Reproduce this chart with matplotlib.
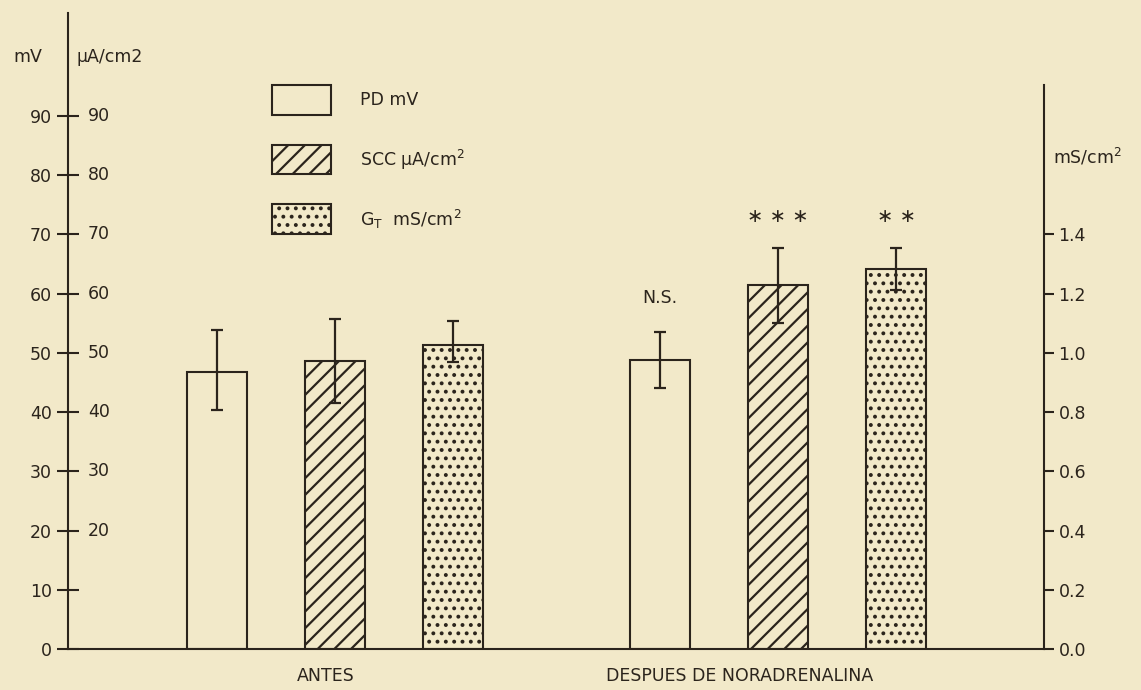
import matplotlib
matplotlib.use("Agg")
import matplotlib.pyplot as plt
import matplotlib.patches as mpatches
import matplotlib.transforms as mtransforms
import numpy as np

# ---------------- data ----------------
groups = ["ANTES", "DESPUES DE NORADRENALINA"]
series = ["PD mV", "SCC \u03bcA/cm$^2$", "G$_\\mathrm{T}$  mS/cm$^2$"]
pd_mv = [46.7, 48.8]
pd_lo = [6.4, 4.8]
pd_hi = [7.2, 4.7]
scc_ua = [48.6, 61.4]
scc_lo = [7.0, 6.3]
scc_hi = [7.1, 6.3]
gt_ms = [1.028, 1.284]
gt_lo = [0.060, 0.070]
gt_hi = [0.080, 0.072]
signif = ["", "N.S.", "\u2217 \u2217 \u2217", "\u2217 \u2217"]  # above PD, SCC, GT of group 2
left_ticks = [0, 10, 20, 30, 40, 50, 60, 70, 80, 90]
ua_ticks = [20, 30, 40, 50, 60, 70, 80, 90]
right_ticks = [0.0, 0.2, 0.4, 0.6, 0.8, 1.0, 1.2, 1.4]

# ---------------- style ----------------
W, H = 1141, 690
BG = "#f2e9c9"
INK = "#2b241c"
FS = 12.5
plt.rcParams["font.family"] = ["DejaVu Sans"]
plt.rcParams["hatch.linewidth"] = 1.6
plt.rcParams["hatch.color"] = INK

fig = plt.figure(figsize=(W / 100, H / 100), dpi=100, facecolor=BG)
ax_l, ax_r, ax_b, ax_t = 68, 1044, 649, 13
ax = fig.add_axes([ax_l / W, (H - ax_b) / H, (ax_r - ax_l) / W, (ax_b - ax_t) / H])
ax.set_facecolor("none")

unit = 118.0
xl = (ax_l - 217) / unit
xr = xl + (ax_r - ax_l) / unit
ytop = 107.4
ax.set_xlim(xl, xr)
ax.set_ylim(0, ytop)

base = np.array([0.0, 3.756])
width = 0.51

ax2 = ax.twinx()
ax2.set_ylim(0, ytop / 50.0)
ax2.set_facecolor("none")

bar_kw = dict(width=width, edgecolor=INK, linewidth=1.5, zorder=3)
err_kw = dict(fmt="none", ecolor=INK, elinewidth=1.6, capsize=4.5, capthick=1.6, zorder=4)

ax.bar(base + 0, pd_mv, facecolor="none", **bar_kw)
ax.errorbar(base + 0, pd_mv, yerr=[pd_lo, pd_hi], **err_kw)
ax.bar(base + 1, scc_ua, facecolor="none", hatch="//", **bar_kw)
ax.errorbar(base + 1, scc_ua, yerr=[scc_lo, scc_hi], **err_kw)
ax2.bar(base + 2, gt_ms, facecolor="none", hatch="..", **bar_kw)
ax2.errorbar(base + 2, gt_ms, yerr=[gt_lo, gt_hi], **err_kw)

# spines
for a in (ax, ax2):
    a.spines["top"].set_visible(False)
    for s in a.spines.values():
        s.set_color(INK)
        s.set_linewidth(1.5)
ax.spines["right"].set_visible(False)
ax2.spines["left"].set_visible(False)
ax2.spines["bottom"].set_visible(False)
ax2.spines["right"].set_bounds(0, 95.3 / 50.0)

# left ticks
ax.set_yticks(left_ticks)
ax.set_yticklabels([str(v) for v in left_ticks])
ax.tick_params(axis="y", direction="inout", length=15.5, width=1.5, color=INK,
               labelsize=FS, labelcolor=INK, pad=4)
# right ticks
ax2.set_yticks(right_ticks)
ax2.set_yticklabels(["%.1f" % v for v in right_ticks])
ax2.tick_params(axis="y", direction="out", length=7.5, width=1.5, color=INK,
                labelsize=FS, labelcolor=INK, pad=3)

# x group labels
ax.set_xticks([0.924, 4.43])
ax.set_xticklabels(groups)
ax.tick_params(axis="x", length=0, labelsize=FS, labelcolor=INK, pad=13)

# second left scale labels (uA/cm2)
tr = mtransforms.blended_transform_factory(ax.transAxes, ax.transData)
for v in ua_ticks:
    ax.text((88 - ax_l) / (ax_r - ax_l), v, str(v), transform=tr, ha="left", va="center",
            fontsize=FS, color=INK)

def fpx(x, y):
    return x / W, 1 - y / H

fig.text(*fpx(42, 57), "mV", ha="right", va="center", fontsize=FS, color=INK)
fig.text(*fpx(76, 57), "\u03bcA/cm2", ha="left", va="center", fontsize=FS, color=INK)
fig.text(*fpx(1053, 157), "mS/cm$^2$", ha="left", va="center", fontsize=FS, color=INK)

# significance labels above group 2 bars
sig_y = [None, 298, 216, 216]
sig_x = [None, base[1] + 0, base[1] + 1, base[1] + 2]
trx = mtransforms.blended_transform_factory(ax.transData, fig.transFigure)
for i in (1, 2, 3):
    ax.text(sig_x[i], 1 - sig_y[i] / H, signif[i], transform=trx, ha="center", va="center",
            fontsize=FS if i == 1 else 14, color=INK)

# legend (manual)
leg_boxes = [(272, 85, 59, 30), (272, 145, 59, 29), (272, 204, 59, 30)]
leg_hatch = [None, "//", ".."]
leg_ty = [100, 160, 219]
for (x0, y0, w, h), hch, ty, lab in zip(leg_boxes, leg_hatch, leg_ty, series):
    r = mpatches.Rectangle(fpx(x0, y0 + h), w / W, h / H, transform=fig.transFigure,
                           facecolor="none", edgecolor=INK, linewidth=1.5, hatch=hch)
    fig.add_artist(r)
    fig.text(*fpx(360, ty), lab, ha="left", va="center", fontsize=FS, color=INK)

fig.savefig("out.png", dpi=100, facecolor=BG)
